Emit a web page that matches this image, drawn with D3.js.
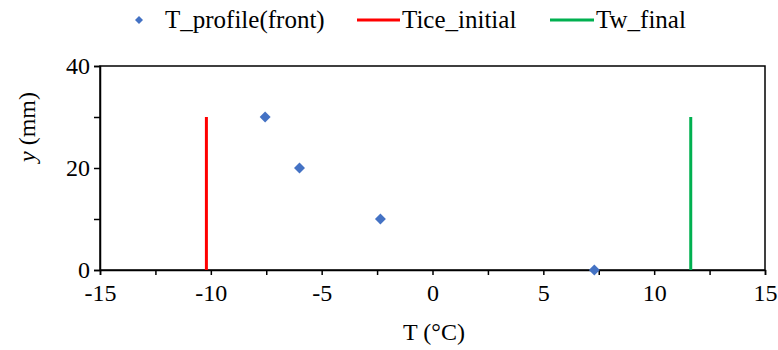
<!DOCTYPE html>
<html><head><meta charset="utf-8">
<script src="https://cdn.jsdelivr.net/npm/d3@7"></script>
<style>body{margin:0;background:#fff}</style>
</head><body>
<svg id="c" width="778" height="350"></svg>
<script>
const profileT = [-7.55, -6.0, -2.35, 7.3];
const profileY = [30, 20, 10, 0];
const iceInitialT = [-10.2, -10.2];
const iceInitialY = [0, 30];
const wFinalT = [11.65, 11.65];
const wFinalY = [0, 30];
const xTickLabels = [-15, -10, -5, 0, 5, 10, 15];
const xMinorTicks = [-12.5, -7.5, -2.5, 2.5, 7.5, 12.5];
const yTickLabels = [0, 20, 40];
const yMinorTicks = [10, 30];

const FF = '"Liberation Serif"';
const FS = "24px";
const svg = d3.select("#c");
const L = 100, R = 765, T = 66, B = 270;
const x = d3.scaleLinear().domain([-15, 15]).range([L, R]);
const y = d3.scaleLinear().domain([0, 40]).range([B, T]);

function styleText(sel, fs) { return sel.style("font-family", FF).style("font-size", fs || FS).attr("fill", "#000"); }

// frame
svg.append("rect").attr("x", L).attr("y", T).attr("width", R - L).attr("height", B - T)
  .attr("fill", "none").attr("stroke", "#000").attr("stroke-width", 1.5);

// x axis
const xAxis = d3.axisBottom(x).tickValues(xTickLabels.concat(xMinorTicks)).tickSize(5)
  .tickFormat(d => xTickLabels.includes(d) ? d : "");
const gx = svg.append("g").attr("transform", `translate(0,${B})`).call(xAxis);
gx.select(".domain").attr("stroke-width", 1.5);
gx.selectAll("line").attr("stroke-width", 1.5);
styleText(gx.selectAll("text")).attr("y", 14).attr("dy", "0.71em");

// y axis
const yAxis = d3.axisLeft(y).tickValues(yTickLabels.concat(yMinorTicks)).tickSize(6)
  .tickFormat(d => yTickLabels.includes(d) ? d : "");
const gy = svg.append("g").attr("transform", `translate(${L},0)`).call(yAxis);
gy.select(".domain").attr("stroke-width", 1.5);
gy.selectAll("line").attr("stroke-width", 1.5);
styleText(gy.selectAll("text")).attr("x", -10);

// lines
const line = d3.line().x(d => x(d[0])).y(d => y(d[1]));
svg.append("path").datum(iceInitialT.map((t, i) => [t, iceInitialY[i]]))
  .attr("d", line).attr("stroke", "#FF0000").attr("stroke-width", 3).attr("fill", "none");
svg.append("path").datum(wFinalT.map((t, i) => [t, wFinalY[i]]))
  .attr("d", line).attr("stroke", "#00B050").attr("stroke-width", 3).attr("fill", "none");

// points
const diamond = d3.symbol().type(d3.symbolSquare).size(60);
svg.selectAll(".pt").data(profileT.map((t, i) => [t, profileY[i]])).enter().append("path")
  .attr("d", diamond).attr("fill", "#4472C4")
  .attr("transform", d => `translate(${x(d[0])},${y(d[1])}) rotate(45)`);

// axis titles
styleText(svg.append("text")).attr("x", 434).attr("y", 340).attr("text-anchor", "middle").text("T (°C)");
const yt = styleText(svg.append("text")).attr("transform", "translate(35,127) rotate(-90)").attr("text-anchor", "middle");
yt.append("tspan").style("font-style", "italic").text("y");
yt.append("tspan").text(" (mm)");

// legend
const lg = svg.append("g");
lg.append("path").attr("d", d3.symbol().type(d3.symbolSquare).size(32)).attr("fill", "#4472C4")
  .attr("transform", "translate(139,20) rotate(45)");
styleText(lg.append("text"), "25px").attr("x", 165).attr("y", 28).text("T_profile(front)");
lg.append("line").attr("x1", 357).attr("x2", 400).attr("y1", 20).attr("y2", 20).attr("stroke", "#FF0000").attr("stroke-width", 3);
styleText(lg.append("text"), "25px").attr("x", 402).attr("y", 28).text("Tice_initial");
lg.append("line").attr("x1", 550).attr("x2", 594).attr("y1", 20).attr("y2", 20).attr("stroke", "#00B050").attr("stroke-width", 3);
styleText(lg.append("text"), "25px").attr("x", 596).attr("y", 28).text("Tw_final");
</script>
</body></html>
